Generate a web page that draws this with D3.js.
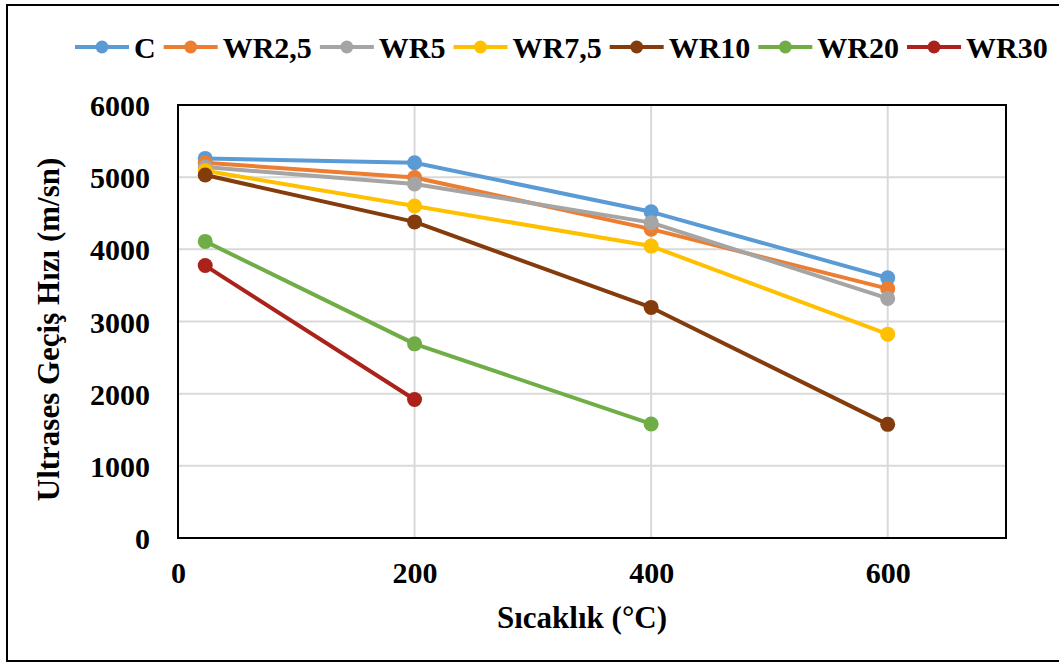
<!DOCTYPE html>
<html>
<head>
<meta charset="utf-8">
<script src="https://cdn.jsdelivr.net/npm/d3@7"></script>
<style>
  html, body { margin: 0; padding: 0; background: #fff; }
  svg { display: block; }
  text { font-family: "Liberation Serif", "Times New Roman", serif; font-weight: bold; fill: #000; }
</style>
</head>
<body>
<svg id="chart" width="1059" height="664"></svg>
<script>
// ---- data ----
const temperatures = [23, 200, 400, 600];
const seriesNames = ["C", "WR2,5", "WR5", "WR7,5", "WR10", "WR20", "WR30"];
const valuesC    = [5260, 5200, 4520, 3605];
const valuesWR25 = [5200, 4995, 4280, 3455];
const valuesWR5  = [5140, 4905, 4370, 3320];
const valuesWR75 = [5090, 4600, 4045, 2825];
const valuesWR10 = [5030, 4380, 3195, 1575];
const valuesWR20 = [4110, 2690, 1580];
const valuesWR30 = [3775, 1920];
const seriesColors = ["#5b9bd5", "#ed7d31", "#a5a5a5", "#ffc000", "#843c0c", "#70ad47", "#aa2219"];
const xTicks = [0, 200, 400, 600];
const yTicks = [0, 1000, 2000, 3000, 4000, 5000, 6000];
const xTitle = "Sıcaklık (°C)";
const yTitle = "Ultrases Geçiş Hızı (m/sn)";

const allValues = [valuesC, valuesWR25, valuesWR5, valuesWR75, valuesWR10, valuesWR20, valuesWR30];
const series = seriesNames.map((name, i) => ({
  name, color: seriesColors[i],
  points: allValues[i].map((v, j) => ({ x: temperatures[j], y: v }))
}));

// ---- layout ----
const svg = d3.select("#chart");
const plot = { left: 178, right: 1006, top: 105, bottom: 538 };
const x = d3.scaleLinear().domain([0, 700]).range([plot.left, plot.right]);
const y = d3.scaleLinear().domain([0, 6000]).range([plot.bottom, plot.top]);
const FS = 30;

// outer border
svg.append("rect").attr("x", 7).attr("y", 5).attr("width", 1060).attr("height", 656)
  .attr("fill", "none").attr("stroke", "#000").attr("stroke-width", 2);

// grid
svg.append("g").selectAll("line").data(yTicks.filter(d => d > 0 && d < 6000)).join("line")
  .attr("x1", plot.left).attr("x2", plot.right)
  .attr("y1", d => y(d)).attr("y2", d => y(d))
  .attr("stroke", "#d9d9d9").attr("stroke-width", 2);
svg.append("g").selectAll("line").data(xTicks.filter(d => d > 0)).join("line")
  .attr("y1", plot.top).attr("y2", plot.bottom)
  .attr("x1", d => x(d)).attr("x2", d => x(d))
  .attr("stroke", "#d9d9d9").attr("stroke-width", 2);

// plot border
svg.append("rect").attr("x", plot.left).attr("y", plot.top)
  .attr("width", plot.right - plot.left).attr("height", plot.bottom - plot.top)
  .attr("fill", "none").attr("stroke", "#000").attr("stroke-width", 2);

// axes (labels via d3 axis)
const yAxis = svg.append("g").attr("transform", `translate(${plot.left},0)`)
  .call(d3.axisLeft(y).tickValues(yTicks).tickSize(0).tickPadding(28).tickFormat(d3.format("d")));
yAxis.select(".domain").remove();
yAxis.selectAll("text").style("font-size", FS + "px").style("font-family", "Liberation Serif").attr("dy", "0.35em");

const xAxis = svg.append("g").attr("transform", `translate(0,${plot.bottom})`)
  .call(d3.axisBottom(x).tickValues(xTicks).tickSize(0).tickPadding(24).tickFormat(d3.format("d")));
xAxis.select(".domain").remove();
xAxis.selectAll("text").style("font-size", FS + "px").style("font-family", "Liberation Serif");

// titles
svg.append("text").attr("x", (plot.left + plot.right) / 2 - 10).attr("y", 628)
  .attr("text-anchor", "middle").style("font-size", "31px").text(xTitle);
svg.append("text").attr("transform", `translate(59,${(plot.top + plot.bottom) / 2 + 8}) rotate(-90)`)
  .attr("text-anchor", "middle").style("font-size", "31px").text(yTitle);

// lines
const line = d3.line().x(d => x(d.x)).y(d => y(d.y));
const g = svg.append("g");
series.forEach(s => {
  g.append("path").datum(s.points).attr("d", line)
    .attr("fill", "none").attr("stroke", s.color).attr("stroke-width", 4).attr("stroke-linejoin", "round");
});
series.forEach(s => {
  g.append("g").selectAll("circle").data(s.points).join("circle")
    .attr("cx", d => x(d.x)).attr("cy", d => y(d.y)).attr("r", 7.5).attr("fill", s.color);
});

// legend
const legend = svg.append("g");
let cursor = 75;
const ly = 47;
series.forEach(s => {
  const it = legend.append("g");
  it.append("line").attr("x1", cursor).attr("x2", cursor + 54).attr("y1", ly).attr("y2", ly)
    .attr("stroke", s.color).attr("stroke-width", 4);
  it.append("circle").attr("cx", cursor + 27).attr("cy", ly).attr("r", 6.5).attr("fill", s.color);
  const t = it.append("text").attr("x", cursor + 59).attr("y", ly).attr("dy", "0.35em")
    .style("font-size", FS + "px").text(s.name);
  cursor += 59 + t.node().getComputedTextLength() + 8;
});
</script>
</body>
</html>
